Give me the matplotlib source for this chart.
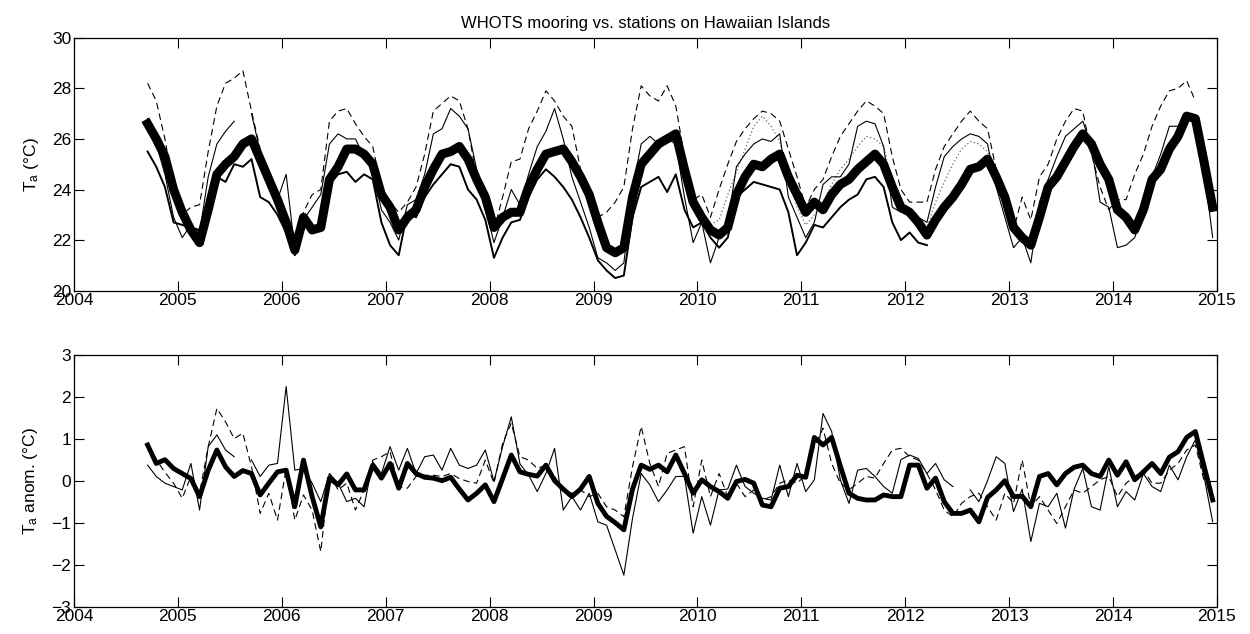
import numpy as np
import matplotlib
matplotlib.use("Agg")
import matplotlib.pyplot as plt

plt.rcParams['font.family'] = ['Liberation Sans', 'DejaVu Sans']
plt.rcParams['lines.scale_dashes'] = False

# monthly series, Sep 2004 .. Dec 2014
start_year, start_month, n_months = 2004, 9, 124

whots = [26.6, 26.0, 25.3, 24.0, 23.1, 22.4, 21.9, 23.2, 24.6, 25.0, 25.3, 25.8,
         26.0, 25.2, 24.4, 23.6, 22.7, 21.6, 22.9, 22.4, 22.5, 24.4, 24.9, 25.6,
         25.6, 25.4, 25.0, 23.8, 23.3, 22.4, 22.9, 23.2, 24.1, 24.8, 25.4, 25.5,
         25.7, 25.2, 24.4, 23.7, 22.5, 22.9, 23.1, 23.1, 24.1, 24.8, 25.4, 25.5,
         25.6, 25.1, 24.5, 23.8, 22.7, 21.7, 21.5, 21.7, 23.7, 25.0, 25.4, 25.8,
         26.0, 26.2, 24.8, 23.5, 22.9, 22.4, 22.2, 22.5, 23.8, 24.5, 25.0, 24.9,
         25.2, 25.4, 24.5, 23.8, 23.1, 23.5, 23.2, 23.8, 24.2, 24.4, 24.8, 25.1,
         25.4, 25.0, 24.1, 23.3, 23.1, 22.7, 22.2, 22.8, 23.3, 23.7, 24.2, 24.8,
         24.9, 25.2, 24.5, 23.7, 22.5, 22.1, 21.8, 22.9, 24.1, 24.5, 25.1, 25.7,
         26.2, 25.8, 25.0, 24.4, 23.2, 22.9, 22.4, 23.2, 24.4, 24.8, 25.6, 26.1,
         26.9, 26.8, 25.1, 23.3]

stn_a = [25.5, 24.9, 24.1, 22.7, 22.6, 22.5, 22.4, 23.3, 24.5, 24.3,
         25.0, 24.9, 25.2, 23.7, 23.5, 23.0, 22.3, 21.4, 22.9, 22.3,
         22.4, 24.2, 24.6, 24.7, 24.3, 24.6, 24.4, 22.7, 21.8, 21.4,
         23.1, 22.9, 23.7, 24.2, 24.6, 25.0, 24.9, 24.0, 23.6, 22.8,
         21.3, 22.1, 22.7, 22.8, 23.7, 24.4, 24.8, 24.5, 24.1, 23.6,
         22.9, 22.1, 21.2, 20.8, 20.5, 20.6, 22.9, 24.1, 24.3, 24.5,
         23.9, 24.6, 23.2, 22.5, 22.7, 22.1, 21.7, 22.1, 23.7, 24.0,
         24.3, 24.2, 24.1, 24.0, 23.1, 21.4, 21.9, 22.6, 22.5, 22.9,
         23.3, 23.6, 23.8, 24.4, 24.5, 24.1, 22.7, 22.0, 22.3, 21.9, 21.8]

stn_b = [26.8, 25.8, 24.6, 22.9, 22.1, 22.6, 22.3, 24.5, 25.8, 26.3, 26.7, np.nan,
         27.0, 25.5, 24.6, 23.6, 24.6, 21.6, 22.8, 23.3, 23.8, 25.8, 26.2, 26.0,
         26.0, 25.3, 24.7, 23.2, 22.7, 22.0, 23.4, 23.6, 24.6, 26.2, 26.4, 27.2,
         26.9, 26.4, 24.8, 23.3, 21.9, 22.9, 24.0, 23.4, 24.6, 25.7, 26.3, 27.2,
         26.0, 24.5, 23.5, 22.5, 21.3, 21.1, 20.8, 21.1, 24.0, 25.8, 26.1, 25.8,
         26.0, 25.8, 23.7, 21.9, 22.7, 21.1, 22.1, 22.7, 24.9, 25.4, 25.8, 26.0,
         25.9, 26.2, 23.7, 22.9, 22.1, 22.7, 24.2, 24.5, 24.5, 25.0, 26.5, 26.7,
         26.6, 25.7, 23.3, 23.1, 23.0, 22.9, 22.7, 24.1, 25.3, 25.7, 26.0, 26.2,
         26.1, 25.8, 24.1, 22.9, 21.7, 22.1, 21.1, 23.5, 24.4, 25.3, 26.1, 26.4,
         26.7, 25.7, 23.5, 23.3, 21.7, 21.8, 22.1, 23.2, 24.5, 25.4, 26.5, 26.5,
         26.9, 26.8, 24.8, 22.1]

stn_c = [28.2, 27.5, 26.0, 24.0, 23.0, 23.3, 23.4, 25.5, 27.3, 28.2, 28.4, 28.7,
         27.1, 25.6, 24.4, 23.2, 22.7, 21.9, 23.1, 23.8, 24.0, 26.7, 27.1, 27.2,
         26.6, 26.1, 25.7, 24.1, 23.5, 23.1, 23.5, 24.1, 25.4, 27.1, 27.4, 27.7,
         27.5, 26.4, 24.5, 23.3, 22.4, 23.7, 25.1, 25.2, 26.4, 27.1, 27.9, 27.5,
         26.9, 26.5, 24.8, 24.0, 22.9, 23.1, 23.5, 24.1, 26.4, 28.1, 27.7, 27.5,
         28.1, 27.3, 25.3, 23.6, 23.8, 22.9, 24.0, 25.0, 25.9, 26.4, 26.8, 27.1,
         27.0, 26.7, 25.6, 24.5, 23.3, 24.0, 24.4, 25.3, 26.1, 26.6, 27.1, 27.5,
         27.3, 27.0, 25.3, 24.0, 23.5, 23.5, 23.5, 24.8, 25.7, 26.2, 26.7, 27.1,
         26.7, 26.4, 24.8, 23.3, 22.4, 23.7, 22.8, 24.5, 25.0, 26.0, 26.7, 27.2,
         27.1, 25.4, 24.1, 23.2, 23.6, 23.6, 24.6, 25.4, 26.5, 27.3, 27.9, 28.0,
         28.3, 27.5]

# short record, Feb 2010 .. Jul 2012
stn_d_start = 65
stn_d = [22.6, 22.8, 23.8, 24.7, 25.6, 26.5, 26.9, 26.5, 25.9, 24.6, 23.3, 22.6,
         23.0, 23.5, 24.2, 24.8, 25.2, 25.7, 26.1, 26.0, 25.7, 24.2, 23.4, 23.0,
         22.7, 22.5, 23.5, 24.3, 25.0, 25.6, 25.9, 25.8, 25.5, 24.3]

# anomalies
whots_anom = [0.85, 0.41, 0.50, 0.29, 0.17, 0.05, -0.38, 0.25, 0.73, 0.33, 0.10, 0.24,
              0.17, -0.34, -0.06, 0.21, 0.25, -0.62, 0.49, -0.38, -1.10, 0.06, -0.10, 0.16,
              -0.22, -0.22, 0.37, 0.06, 0.41, -0.18, 0.41, 0.17, 0.08, 0.06, 0.00, 0.08,
              -0.20, -0.46, -0.30, -0.10, -0.50, 0.05, 0.61, 0.21, 0.15, 0.11, 0.37, 0.00,
              -0.20, -0.38, -0.20, 0.10, -0.54, -0.85, -1.00, -1.17, -0.20, 0.37, 0.27, 0.37,
              0.21, 0.61, 0.17, -0.30, 0.02, -0.14, -0.26, -0.42, -0.02, 0.03, -0.06, -0.58,
              -0.62, -0.18, -0.14, 0.13, 0.08, 1.03, 0.85, 1.03, 0.35, -0.30, -0.42, -0.46,
              -0.46, -0.34, -0.38, -0.38, 0.37, 0.37, -0.18, 0.06, -0.50, -0.78, -0.78, -0.70,
              -0.98, -0.40, -0.22, 0.00, -0.38, -0.37, -0.62, 0.10, 0.17, -0.10, 0.17, 0.32,
              0.37, 0.17, 0.10, 0.49, 0.13, 0.45, 0.02, 0.21, 0.41, 0.17, 0.56, 0.69,
              1.03, 1.17, 0.35, -0.46]

stn_b_anom = [0.37, 0.10, -0.06, -0.14, -0.22, 0.41, -0.70, 0.81, 1.09, 0.73, 0.57, np.nan,
              0.49, 0.10, 0.37, 0.41, 2.24, 0.25, 0.29, -0.06, -0.50, 0.17, -0.06, -0.50,
              -0.42, -0.62, 0.45, 0.17, 0.81, 0.25, 0.77, 0.17, 0.57, 0.61, 0.25, 0.77,
              0.37, 0.29, 0.37, 0.73, -0.02, 0.81, 1.52, 0.40, 0.13, -0.26, 0.17, 0.77,
              -0.70, -0.38, -0.70, -0.30, -0.98, -1.06, -1.65, -2.25, -0.90, 0.17, -0.10, -0.50,
              -0.22, 0.10, 0.10, -1.25, -0.38, -1.06, -0.22, -0.20, 0.37, -0.14, -0.30, -0.42,
              -0.46, 0.37, -0.38, 0.41, -0.26, 0.02, 1.60, 1.17, 0.02, -0.54, 0.25, 0.29,
              0.10, -0.14, -0.30, 0.50, 0.61, 0.53, 0.17, 0.41, 0.02, -0.14, np.nan, -0.22,
              -0.50, 0.00, 0.57, 0.41, -0.74, -0.20, -1.45, -0.54, -0.62, -0.30, -1.13, -0.20,
              0.29, -0.62, -0.70, 0.33, -0.62, -0.26, -0.46, 0.17, -0.14, -0.26, 0.37, 0.02,
              0.57, 0.97, 0.10, -0.98]

stn_c_anom = [0.81, 0.50, 0.20, -0.06, -0.42, 0.10, -0.30, 0.81, 1.72, 1.40, 1.00, 1.13,
              0.33, -0.78, -0.30, -0.94, 0.29, -0.94, -0.34, -0.70, -1.69, 0.17, -0.22, -0.06,
              -0.70, -0.22, 0.49, 0.57, 0.69, -0.14, -0.18, 0.10, 0.13, 0.13, 0.10, 0.17,
              0.05, -0.02, -0.06, 0.49, -0.06, 0.89, 1.37, 0.57, 0.49, 0.29, 0.37, 0.10,
              -0.22, -0.30, -0.22, -0.38, -0.30, -0.62, -0.70, -0.86, 0.33, 1.29, 0.41, -0.14,
              0.65, 0.73, 0.81, -0.62, 0.49, -0.38, 0.17, -0.38, -0.06, -0.38, -0.22, -0.46,
              -0.38, -0.06, 0.02, -0.06, 0.13, 0.81, 1.25, 0.41, -0.06, -0.22, -0.06, 0.10,
              0.06, 0.41, 0.73, 0.77, 0.57, 0.49, 0.17, -0.22, -0.70, -0.86, -0.54, -0.38,
              -0.30, -0.62, -0.94, -0.30, -0.54, 0.49, -0.62, -0.38, -0.70, -1.02, -0.62, -0.22,
              -0.30, -0.14, 0.02, 0.10, -0.38, -0.06, 0.10, 0.25, -0.06, -0.06, 0.25, 0.41,
              0.73, 0.85, 0.00]


def pad(vals, first=0):
    out = np.full(n_months, np.nan)
    out[first:first + len(vals)] = vals
    return out


# decimal year at mid-month
k = np.arange(n_months) + (start_month - 1)
t = start_year + (k + 0.5) / 12.0

fig = plt.figure(figsize=(12.5, 6.34), dpi=100)
ax1 = fig.add_axes([0.0592, 0.5415, 0.9144, 0.399])
ax2 = fig.add_axes([0.0592, 0.0431, 0.9144, 0.3975])

dash = dict(color='k', lw=0.8, linestyle=(0, (4.8, 3.0)))

ax1.plot(t, pad(stn_c), **dash)
ax1.plot(t, pad(stn_d, stn_d_start), color='0.45', lw=0.9, linestyle=':')
ax1.plot(t, pad(stn_b), color='k', lw=0.8)
ax1.plot(t, pad(stn_a), color='k', lw=1.4)
ax1.plot(t, whots, color='k', lw=6.5, solid_joinstyle='round')

ax2.plot(t, pad(stn_c_anom), **dash)
ax2.plot(t, pad(stn_b_anom), color='k', lw=0.8)
ax2.plot(t, whots_anom, color='k', lw=3.5, solid_joinstyle='round')

ax1.set_ylim(20, 30)
ax1.set_yticks(np.arange(20, 31, 2))
ax2.set_ylim(-3, 3)
ax2.set_yticks(np.arange(-3, 4, 1))

for ax in (ax1, ax2):
    ax.set_xlim(2004, 2015)
    ax.set_xticks(np.arange(2004, 2016))
    ax.tick_params(direction='in', top=True, right=True, length=7.5, width=0.8,
                   labelsize=12.5, pad=2)
    for s in ax.spines.values():
        s.set_linewidth(0.9)

ax1.set_ylabel(r'$\mathregular{T_a}$ (°C)', fontsize=12.5, labelpad=8)
ax2.set_ylabel(r'$\mathregular{T_a}$ anom. (°C)', fontsize=12.5, labelpad=8)
ax1.set_title('WHOTS mooring vs. stations on Hawaiian Islands', fontsize=12, pad=7)

fig.savefig('out.png', dpi=100)
